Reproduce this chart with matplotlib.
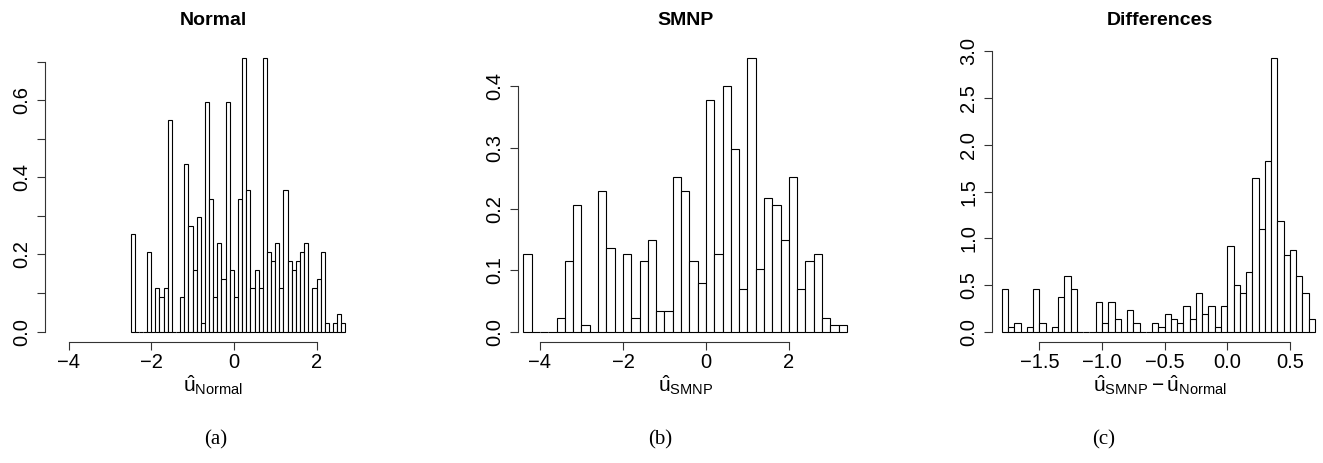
import numpy as np
import matplotlib
matplotlib.use("Agg")
import matplotlib.pyplot as plt

plt.rcParams['font.family'] = ['Liberation Sans', 'DejaVu Sans']
plt.rcParams['mathtext.fontset'] = 'custom'
plt.rcParams['mathtext.rm'] = 'Liberation Sans'
plt.rcParams['mathtext.it'] = 'Liberation Sans'
plt.rcParams['axes.unicode_minus'] = True

# histogram densities (R hist, freq=FALSE)
normal_start, normal_width = -2.5, 0.1
normal_dens = [0.252, 0, 0, 0, 0.206, 0, 0.114, 0.091, 0.114, 0.549,
               0, 0, 0.091, 0.434, 0.275, 0.161, 0.297, 0.022, 0.595, 0.343,
               0.091, 0.229, 0.137, 0.595, 0.161, 0.091, 0.343, 0.708, 0.366, 0.114,
               0.161, 0.114, 0.708, 0.206, 0.183, 0.229, 0.114, 0.366, 0.183, 0.161,
               0.183, 0.206, 0.229, 0, 0.114, 0.137, 0.206, 0.022, 0, 0.022,
               0.046, 0.022]

smnp_start, smnp_width = -4.4, 0.2
smnp_dens = [0.126, 0, 0, 0, 0.023, 0.115, 0.206, 0.011, 0, 0.229,
             0.137, 0, 0.126, 0.023, 0.115, 0.149, 0.034, 0.034, 0.252, 0.229,
             0.115, 0.080, 0.378, 0.126, 0.400, 0.298, 0.069, 0.447, 0.103, 0.218,
             0.206, 0.149, 0.252, 0.069, 0.115, 0.126, 0.023, 0.011, 0.011]

diff_start, diff_width = -1.8, 0.05
diff_dens = [0.457, 0.046, 0.089, 0, 0.046, 0.457, 0.089, 0, 0.046, 0.371,
             0.593, 0.457, 0, 0, 0, 0.321, 0.089, 0.321, 0.139, 0,
             0.229, 0.089, 0, 0, 0.089, 0.046, 0.186, 0.139, 0.089, 0.275,
             0.139, 0.411, 0.186, 0.275, 0.046, 0.275, 0.914, 0.504, 0.411, 0.643,
             1.65, 1.10, 1.83, 2.93, 1.19, 0.825, 0.871, 0.593, 0.411, 0.139]

titles = ["Normal", "SMNP", "Differences"]
xlabels = [r"$\hat{\mathrm{u}}_{\mathrm{Normal}}$",
           r"$\hat{\mathrm{u}}_{\mathrm{SMNP}}$",
           r"$\hat{\mathrm{u}}_{\mathrm{SMNP}}-\hat{\mathrm{u}}_{\mathrm{Normal}}$"]
captions = ["(a)", "(b)", "(c)"]

W, H = 1323, 463
fig = plt.figure(figsize=(W / 100, H / 100), dpi=100)

panels = [
    dict(start=normal_start, width=normal_width, dens=normal_dens,
         left=45, xlim=(-4.57, 3.56), ylim=(-0.0267, 0.7376),
         xticks=[-4, -2, 0, 2], xfmt="{:g}", xb=(-4, 2),
         yticks=np.arange(0, 0.71, 0.1), ylab_every=2, yb=(0, 0.7)),
    dict(start=smnp_start, width=smnp_width, dens=smnp_dens,
         left=518, xlim=(-4.53, 3.57), ylim=(-0.0168, 0.4644),
         xticks=[-4, -2, 0, 2], xfmt="{:g}", xb=(-4, 2),
         yticks=np.arange(0, 0.41, 0.1), ylab_every=1, yb=(0, 0.4)),
    dict(start=diff_start, width=diff_width, dens=diff_dens,
         left=992, xlim=(-1.878, 0.804), ylim=(-0.110, 3.048),
         xticks=[-1.5, -1.0, -0.5, 0.0, 0.5], xfmt="{:.1f}", xb=(-1.5, 0.5),
         yticks=np.arange(0, 3.01, 0.5), ylab_every=1, yb=(0, 3.0)),
]

caption_x = [216, 660, 1104]

for k, p in enumerate(panels):
    ax = fig.add_axes([p["left"] / W, 1 - 342 / H, 336 / W, (342 - 47) / H])
    n = len(p["dens"])
    lefts = p["start"] + p["width"] * np.arange(n)
    ax.bar(lefts, p["dens"], width=p["width"], align="edge",
           facecolor="white", edgecolor="black", linewidth=0.8)
    ax.set_xlim(*p["xlim"])
    ax.set_ylim(*p["ylim"])
    for s in ["top", "right"]:
        ax.spines[s].set_visible(False)
    ax.spines["left"].set_bounds(*p["yb"])
    ax.spines["bottom"].set_bounds(*p["xb"])
    for s in ["left", "bottom"]:
        ax.spines[s].set_linewidth(0.8)
        ax.spines[s].set_color("#333333")
    ax.set_xticks(p["xticks"])
    ax.set_xticklabels([p["xfmt"].format(v).replace("-", "\u2212") for v in p["xticks"]])
    ax.set_yticks(p["yticks"])
    ylabs = ["{:.1f}".format(v) if i % p["ylab_every"] == 0 else ""
             for i, v in enumerate(p["yticks"])]
    ax.set_yticklabels(ylabs, rotation=90, va="center")
    ax.tick_params(axis="both", direction="out", length=6, width=0.8,
                   labelsize=14.5, color="#333333")
    ax.tick_params(axis="x", pad=2)
    ax.tick_params(axis="y", pad=4)
    ax.set_title(titles[k], fontsize=14, fontweight="bold", va="center",
                 y=(342 - 20) / (342 - 47), pad=0)
    ax.set_xlabel(xlabels[k], fontsize=15, labelpad=1)
    fig.text(caption_x[k] / W, 1 - 440 / H, captions[k], ha="center", va="center",
             fontsize=15, family="Liberation Serif")

fig.savefig("out.png", dpi=100)
